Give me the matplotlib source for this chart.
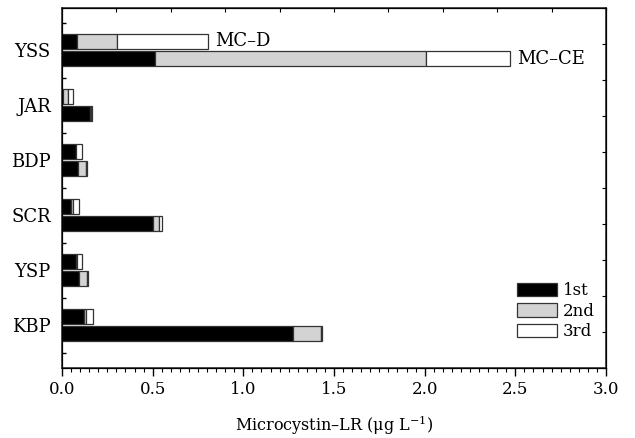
import numpy as np
import matplotlib
matplotlib.use("Agg")
import matplotlib.pyplot as plt
from matplotlib.patches import Patch

plt.rcParams['font.family'] = ['DejaVu Serif']
plt.rcParams['mathtext.fontset'] = 'dejavuserif'

# sites, bottom to top
sites = ['KBP', 'YSP', 'SCR', 'BDP', 'JAR', 'YSS']

# upper bar of each pair (MC-D row for YSS)
upper_1st = [0.120, 0.075, 0.050, 0.075, 0.005, 0.085]
upper_2nd = [0.015, 0.010, 0.013, 0.003, 0.030, 0.217]
upper_3rd = [0.037, 0.027, 0.031, 0.032, 0.024, 0.501]

# lower bar of each pair (MC-CE row for YSS)
lower_1st = [1.272, 0.094, 0.500, 0.087, 0.155, 0.514]
lower_2nd = [0.157, 0.042, 0.037, 0.047, 0.005, 1.492]
lower_3rd = [0.003, 0.007, 0.013, 0.006, 0.007, 0.466]

stage_labels = ['1st', '2nd', '3rd']
stage_colors = ['black', '#d3d3d3', 'white']

fig = plt.figure(figsize=(6.35, 4.38), dpi=100)
ax = fig.add_axes([0.0976, 0.160, 0.8567, 0.822])

y = np.arange(1, len(sites) + 1)
h = 0.27
off = 0.155

for ypos, parts in [(y + off, [upper_1st, upper_2nd, upper_3rd]),
                    (y - off, [lower_1st, lower_2nd, lower_3rd])]:
    left = np.zeros(len(sites))
    for vals, col in zip(parts, stage_colors):
        ax.barh(ypos, vals, height=h, left=left, color=col,
                edgecolor='#333333', linewidth=0.9)
        left = left + np.array(vals)

yss_top = upper_1st[-1] + upper_2nd[-1] + upper_3rd[-1]
yss_bot = lower_1st[-1] + lower_2nd[-1] + lower_3rd[-1]
ax.text(yss_top + 0.04, y[-1] + off + 0.02, 'MC\u2013D', fontsize=13, va='center')
ax.text(yss_bot + 0.04, y[-1] - off + 0.0, 'MC\u2013CE', fontsize=13, va='center')

ax.set_xlim(0, 3.0)
ax.set_ylim(0.22, 6.77)
ax.set_xticks(np.arange(0, 3.01, 0.5))
ax.set_xticklabels(['%.1f' % v for v in np.arange(0, 3.01, 0.5)], fontsize=12)
ax.set_xticks(np.arange(0, 3.001, 0.05), minor=True)
ax.tick_params(axis='x', which='major', direction='out', length=6, width=1)
ax.tick_params(axis='x', which='minor', direction='out', length=3, width=0.8)
ax.set_yticks(y)
ax.set_yticklabels(sites, fontsize=13)
ax.set_yticks(np.arange(0.5, 6.6, 1.0), minor=True)
ax.tick_params(axis='y', which='major', length=0, pad=8)
ax.tick_params(axis='y', which='minor', direction='in', length=3, width=1)
ax.set_xlabel('Microcystin\u2013LR (\u03bcg L$^{-1}$)', fontsize=11.5, labelpad=11)

for s in ax.spines.values():
    s.set_linewidth(1.2)
    s.set_color('#333333')

# inward ticks on the top and right frame
axt = ax.twiny()
axt.set_xlim(0, 3.0)
axt.set_xticks(np.linspace(0, 3.0, 11))
axt.tick_params(axis='x', direction='in', length=3, labeltop=False)
axr = ax.twinx()
axr.set_ylim(0, 1)
axr.set_yticks(np.linspace(0, 1, 11))
axr.tick_params(axis='y', direction='in', length=3, labelright=False)

handles = [Patch(facecolor=c, edgecolor='#333333', linewidth=0.9) for c in stage_colors]
ax.legend(handles, stage_labels, loc='lower right', bbox_to_anchor=(1.0, 0.045),
          frameon=False, fontsize=12, handlelength=2.4, handleheight=0.85,
          handletextpad=0.35, labelspacing=0.2, borderaxespad=0.3)

fig.savefig('out.png', dpi=100)
